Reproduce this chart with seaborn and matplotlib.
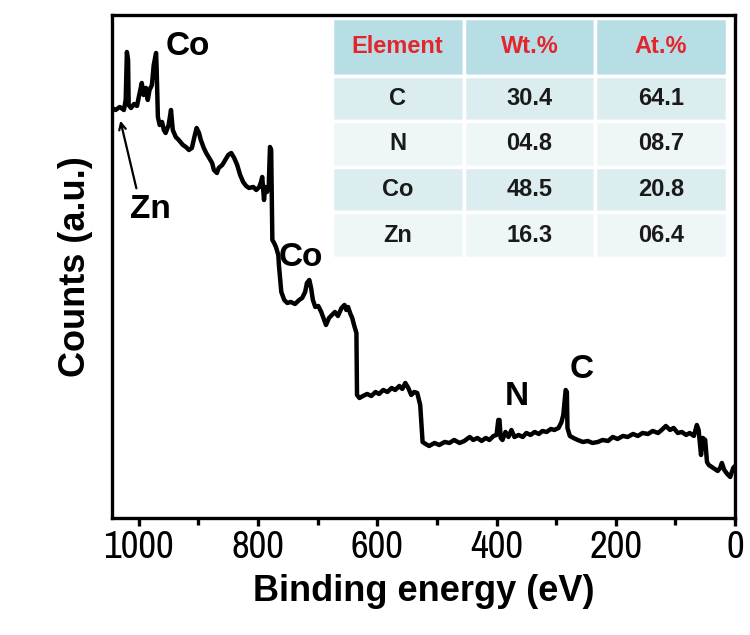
import numpy as np
import pandas as pd
import matplotlib
matplotlib.use("Agg")
import matplotlib.pyplot as plt
from matplotlib import font_manager
import seaborn as sns

# survey spectrum (binding energy in eV, counts in a.u.)
energy = [1045, 1039, 1032, 1025, 1022, 1020, 1018, 1017, 1013, 1008, 1003, 1000,
          995, 992, 988, 985, 982, 978, 975, 971, 970, 968, 965, 961, 958, 955,
          950, 946, 943, 938, 933, 926, 921, 916, 911, 906, 903, 899, 896, 891,
          887, 882, 877, 874, 869, 866, 860, 855, 850, 845, 840, 835, 830, 825,
          820, 815, 808, 803, 798, 795, 793, 790, 788, 785, 782, 780, 778, 776,
          773, 770, 766, 765, 761, 756, 751, 745, 738, 731, 726, 721, 718, 714,
          711, 708, 704, 699, 694, 689, 686, 681, 676, 671, 666, 660, 655, 652,
          649, 645, 642, 639, 635, 634, 630, 624, 617, 610, 603, 597, 590, 583,
          576, 570, 563, 558, 553, 548, 543, 538, 533, 528, 524, 519, 513, 504,
          496, 487, 479, 471, 462, 454, 445, 439, 432, 425, 418, 412, 405, 400,
          397, 395, 393, 390, 385, 380, 375, 370, 363, 356, 350, 343, 336, 329,
          323, 316, 309, 303, 296, 291, 288, 284, 282, 281, 277, 271, 264, 255,
          247, 239, 230, 222, 213, 205, 197, 188, 180, 171, 163, 155, 146, 138,
          129, 123, 116, 109, 103, 96, 89, 82, 76, 69, 64, 61, 57, 54, 50, 47,
          44, 39, 34, 29, 25, 22, 18, 13, 8, 3, 0]
counts = [410, 408, 411, 408, 418, 466, 458, 413, 410, 414, 412, 421,
          435, 423, 430, 418, 428, 433, 453, 465, 448, 401, 393, 396, 388, 385,
          393, 408, 388, 381, 378, 373, 371, 368, 370, 383, 390, 385, 378, 370,
          365, 360, 355, 348, 345, 350, 353, 358, 363, 365, 360, 353, 343, 336,
          332, 330, 331, 328, 331, 336, 341, 318, 331, 326, 333, 371, 368, 278,
          275, 271, 263, 253, 226, 218, 215, 216, 214, 218, 220, 226, 235, 238,
          230, 218, 211, 212, 206, 198, 193, 200, 203, 206, 202, 210, 213, 208,
          211, 204, 200, 193, 185, 123, 120, 122, 124, 122, 126, 124, 128, 126,
          130, 128, 132, 129, 135, 130, 123, 126, 125, 113, 76, 74, 72, 75,
          73, 76, 75, 78, 75, 77, 81, 78, 80, 77, 80, 78, 82, 83,
          98, 98, 80, 78, 86, 81, 88, 81, 83, 81, 85, 83, 86, 84,
          87, 86, 89, 88, 90, 96, 103, 128, 126, 90, 82, 80, 78, 76,
          77, 75, 76, 78, 77, 81, 79, 82, 81, 84, 82, 85, 84, 87,
          85, 88, 92, 88, 90, 85, 86, 83, 85, 82, 93, 88, 63, 80, 78, 56,
          53, 51, 49, 47, 50, 55, 48, 44, 41, 50, 52]

# peak labels: text, energy, counts
peak_text = ["Co", "Co", "Zn", "N", "C"]
peak_x = [918, 728, 980, 366, 257]
peak_y = [471, 260, 308, 121, 148]

# composition table
elements = ["C", "N", "Co", "Zn"]
wt_pct = ["30.4", "04.8", "48.5", "16.3"]
at_pct = ["64.1", "08.7", "20.8", "06.4"]
col_labels = ["Element", "Wt.%", "At.%"]

df = pd.DataFrame({"energy": energy, "counts": counts})

sns.set_theme(style="ticks")
plt.rcParams["font.family"] = ["Liberation Sans", "DejaVu Sans"]
plt.rcParams["text.color"] = "black"
plt.rcParams["axes.labelcolor"] = "black"
plt.rcParams["xtick.color"] = "black"

fig, ax = plt.subplots(figsize=(7.5, 6.35), dpi=100)
fig.subplots_adjust(left=0.1493, right=0.98, top=0.9764, bottom=0.1843)

sns.lineplot(data=df, x="energy", y="counts", color="black", lw=3.2,
             sort=False, ax=ax)

ax.set_xlim(1045, 0)
ax.set_ylim(0, 503)
ax.set_xticks([1000, 800, 600, 400, 200, 0])
ax.set_xticks([900, 700, 500, 300, 100], minor=True)
ax.set_yticks([])
for s in ax.spines.values():
    s.set_linewidth(2.4)
    s.set_color("black")
ax.tick_params(axis="x", which="major", direction="out", length=6, width=2.4,
               labelsize=25, pad=3)
ax.tick_params(axis="x", which="minor", direction="out", length=5, width=2.4)
narrow = [f.name for f in font_manager.fontManager.ttflist if "Narrow" in f.name]
if narrow:
    for lab in ax.get_xticklabels():
        lab.set_family(narrow[0])
        lab.set_fontsize(28)
ax.set_xlabel("Binding energy (eV)", fontsize=26, fontweight="bold", labelpad=6)
ax.set_ylabel("Counts (a.u.)", fontsize=26, fontweight="bold", labelpad=14)

for t, x, y in zip(peak_text, peak_x, peak_y):
    ax.text(x, y, t, fontsize=24, fontweight="bold", ha="center", va="center")

ax.annotate("", xy=(1032, 400), xytext=(1003, 327),
            arrowprops=dict(arrowstyle="->", color="black", lw=1.6))

# inset table
cell_text = [[e, w, a] for e, w, a in zip(elements, wt_pct, at_pct)]
tab = ax.table(cellText=cell_text, colLabels=col_labels, cellLoc="center",
               bbox=[0.353, 0.517, 0.634, 0.477])
tab.auto_set_font_size(False)
tab.set_fontsize(17)
row_colors = ["#dcedf0", "#eef6f8", "#dcedf0", "#eef6f8"]
for (r, c), cell in tab.get_celld().items():
    cell.set_edgecolor("white")
    cell.set_linewidth(2.5)
    txt = cell.get_text()
    txt.set_fontweight("bold")
    if r == 0:
        cell.set_facecolor("#b8dee5")
        cell.set_height(0.24)
        txt.set_color("#e3262d")
    else:
        cell.set_facecolor(row_colors[r - 1])
        cell.set_height(0.19)
        txt.set_color("#1a1a1a")

fig.savefig("out.png", dpi=100)
